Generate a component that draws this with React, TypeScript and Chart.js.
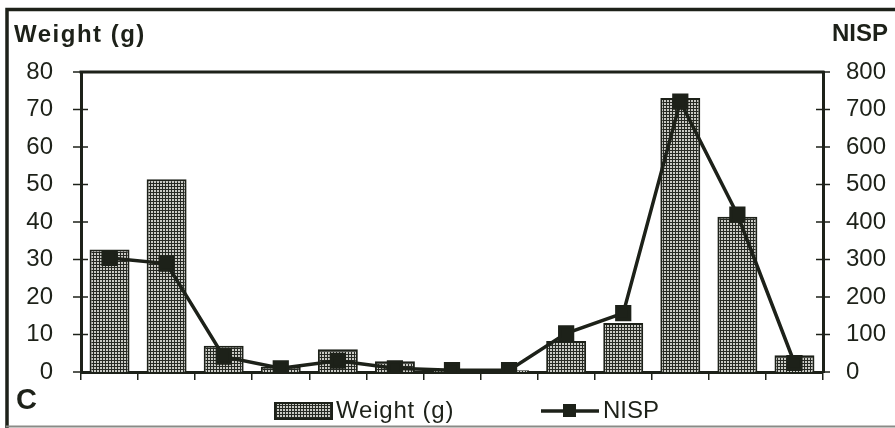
import React, { useEffect, useRef } from "react";
import { Chart, registerables } from "chart.js";

Chart.register(...registerables);

const categories = ["1", "2", "3", "4", "5", "6", "7", "8", "9", "10", "11", "12", "13"];
const weightValues = [32.7, 51.4, 7.0, 1.4, 6.1, 2.9, 0.5, 0.5, 8.3, 13.1, 73.1, 41.4, 4.5];
const nispValues = [304, 289, 41, 10, 30, 10, 5, 5, 103, 157, 721, 420, 24];
const weightTicks = [0, 10, 20, 30, 40, 50, 60, 70, 80];
const nispTicks = [0, 100, 200, 300, 400, 500, 600, 700, 800];

const INK = "#1d2119";
const FONT = '"Liberation Sans", Arial, sans-serif';

function makePattern(ctx: CanvasRenderingContext2D) {
  const pc = document.createElement("canvas");
  pc.width = 3;
  pc.height = 3;
  const p = pc.getContext("2d")!;
  p.fillStyle = "#c9cac4";
  p.fillRect(0, 0, 3, 3);
  p.fillStyle = "#262923";
  p.fillRect(0, 0, 3, 1);
  p.fillRect(0, 0, 1, 3);
  return ctx.createPattern(pc, "repeat")!;
}

export default function App() {
  const ref = useRef<HTMLCanvasElement | null>(null);

  useEffect(() => {
    const canvas = ref.current!;
    const ctx0 = canvas.getContext("2d")!;
    const pattern = makePattern(ctx0);

    const decor = {
      id: "decor",
      beforeDraw(chart: any) {
        const c = chart.ctx;
        c.save();
        c.fillStyle = "#ffffff";
        c.fillRect(0, 0, chart.width, chart.height);
        c.restore();
      },
      afterDraw(chart: any) {
        const c: CanvasRenderingContext2D = chart.ctx;
        const a = chart.chartArea;
        const ys = chart.scales.y;
        const ys1 = chart.scales.y1;
        c.save();
        c.strokeStyle = INK;
        // top line of plot area
        c.lineWidth = 3;
        c.beginPath();
        c.moveTo(a.left - 1.5, a.top);
        c.lineTo(a.right + 1.5, a.top);
        c.stroke();
        // crossing tick marks on y axes
        c.lineWidth = 1.5;
        weightTicks.forEach((v) => {
          const y = ys.getPixelForValue(v);
          c.beginPath();
          c.moveTo(a.left - 8, y);
          c.lineTo(a.left + 7, y);
          c.stroke();
        });
        nispTicks.forEach((v) => {
          const y = ys1.getPixelForValue(v);
          c.beginPath();
          c.moveTo(a.right - 7, y);
          c.lineTo(a.right + 7, y);
          c.stroke();
        });
        // axis titles
        c.fillStyle = INK;
        c.textBaseline = "alphabetic";
        c.font = `bold 24px ${FONT}`;
        (c as any).letterSpacing = "1.5px";
        c.textAlign = "left";
        c.fillText("Weight (g)", 14, 42);
        (c as any).letterSpacing = "0px";
        c.textAlign = "right";
        c.fillText("NISP", 888, 41);
        // panel letter
        c.font = `bold 29px ${FONT}`;
        c.textAlign = "left";
        c.fillText("C", 16, 409);
        // legend
        c.fillStyle = pattern;
        c.fillRect(275, 403, 57, 16);
        c.lineWidth = 2;
        c.strokeRect(275, 403, 57, 16);
        c.fillStyle = INK;
        c.font = `24px ${FONT}`;
        (c as any).letterSpacing = "0.8px";
        c.textAlign = "left";
        c.fillText("Weight (g)", 336, 418);
        (c as any).letterSpacing = "0px";
        c.lineWidth = 3.5;
        c.beginPath();
        c.moveTo(541, 411);
        c.lineTo(599, 411);
        c.stroke();
        c.fillRect(563, 404, 13, 13);
        c.fillText("NISP", 603, 418);
        // outer frame
        c.strokeStyle = INK;
        c.lineWidth = 3.5;
        c.beginPath();
        c.moveTo(7, 428);
        c.lineTo(7, 9.5);
        c.lineTo(895, 9.5);
        c.stroke();
        c.strokeStyle = "#8a8a86";
        c.lineWidth = 2;
        c.beginPath();
        c.moveTo(6, 426.5);
        c.lineTo(895, 426.5);
        c.stroke();
        c.restore();
      },
    };

    const chart = new Chart(canvas, {
      type: "bar",
      data: {
        labels: categories,
        datasets: [
          {
            type: "line",
            label: "NISP",
            data: nispValues,
            yAxisID: "y1",
            borderColor: INK,
            backgroundColor: INK,
            borderWidth: 3.5,
            pointStyle: "rect",
            pointRadius: 9,
            pointBackgroundColor: INK,
            pointBorderColor: INK,
            tension: 0,
            order: 0,
          } as any,
          {
            type: "bar",
            label: "Weight (g)",
            data: weightValues,
            yAxisID: "y",
            backgroundColor: pattern as any,
            borderColor: INK,
            borderWidth: 2,
            barPercentage: 0.7,
            categoryPercentage: 1,
            order: 1,
          },
        ],
      },
      options: {
        responsive: false,
        animation: false,
        layout: { padding: { top: 72, left: 0, right: 0, bottom: 0 } },
        plugins: {
          legend: { display: false },
          tooltip: { enabled: false },
        },
        scales: {
          x: {
            type: "category",
            offset: true,
            grid: {
              display: true,
              offset: true,
              drawOnChartArea: false,
              drawTicks: true,
              tickLength: 8,
              color: INK,
              lineWidth: 1.5,
            },
            ticks: { display: false },
            border: { display: true, color: INK, width: 3 },
            afterFit: (s: any) => {
              s.height = 56;
            },
          },
          y: {
            position: "left",
            min: 0,
            max: 80,
            ticks: {
              stepSize: 10,
              color: INK,
              padding: 20,
              font: { family: FONT, size: 24 },
            },
            grid: { display: false },
            border: { display: true, color: INK, width: 3 },
            afterFit: (s: any) => {
              s.width = 81;
            },
          },
          y1: {
            position: "right",
            min: 0,
            max: 800,
            ticks: {
              stepSize: 100,
              color: INK,
              padding: 15,
              font: { family: FONT, size: 24 },
            },
            grid: { display: false },
            border: { display: true, color: INK, width: 3 },
            afterFit: (s: any) => {
              s.width = 72;
            },
          },
        },
      },
      plugins: [decor],
    });
    return () => chart.destroy();
  }, []);

  return (
    <div style={{ position: "absolute", left: 0, top: 0, width: 895, height: 428 }}>
      <canvas ref={ref} width={895} height={428} style={{ display: "block" }} />
    </div>
  );
}
